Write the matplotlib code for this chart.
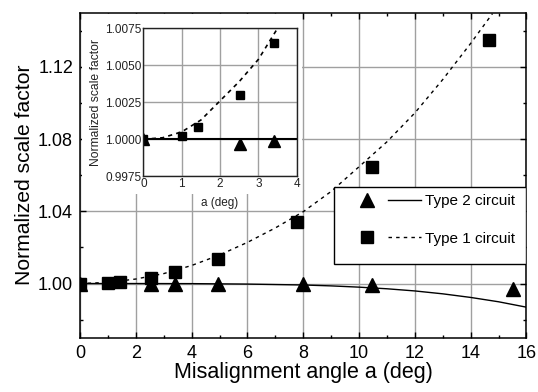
import matplotlib
matplotlib.use("Agg")
import matplotlib.pyplot as plt
from matplotlib.patches import Rectangle
from matplotlib.legend_handler import HandlerTuple
from matplotlib.ticker import MultipleLocator

plt.rcParams["font.family"] = ["Liberation Sans", "DejaVu Sans"]

# measured points, type 1 circuit (squares)
t1_angle = [0.0, 1.0, 1.42, 2.53, 3.42, 4.93, 7.77, 10.45, 14.66]
t1_factor = [1.0000, 1.0002, 1.0008, 1.0030, 1.0065, 1.0137, 1.0340, 1.0643, 1.1348]

# measured points, type 2 circuit (triangles)
t2_angle = [0.0, 2.53, 3.42, 4.93, 8.0, 10.45, 15.5]
t2_factor = [1.0000, 0.9998, 0.9999, 0.9999, 0.9996, 0.9991, 0.9969]

# fitted curves
fit1_angle = [0, 1, 2, 3, 4, 5, 6, 7, 8, 9, 10, 11, 12, 13, 14, 14.78]
fit1_factor = [1.0, 1.0006, 1.0025, 1.0055, 1.0100, 1.0158, 1.0228, 1.0308,
               1.0398, 1.0510, 1.0647, 1.0785, 1.0945, 1.1130, 1.1330, 1.1495]
fit2_angle = [0, 2, 4, 6, 8, 9, 10, 11, 12, 13, 14, 15, 16]
fit2_factor = [1.0, 1.0, 0.99995, 0.9997, 0.9992, 0.9987, 0.9980, 0.9971,
               0.9959, 0.9943, 0.9923, 0.9899, 0.9869]

# inset (zoom on small angles)
in1_angle = [0.0, 1.0, 1.42, 2.53, 3.42]
in1_factor = [1.0000, 1.0002, 1.0008, 1.0030, 1.0065]
in2_angle = [0.0, 2.53, 3.42]
in2_factor = [1.0000, 0.9997, 0.9999]
infit1_angle = [0, 0.5, 1, 1.5, 2, 2.5, 3, 3.5]
infit1_factor = [1.0, 1.0001, 1.0005, 1.0013, 1.0026, 1.0039, 1.0054, 1.0075]
infit2_angle = [0, 4]
infit2_factor = [1.0, 1.0]

fig = plt.figure(figsize=(5.38, 3.92), dpi=100)
ax = fig.add_axes([0.1487, 0.1385, 0.8299, 0.8291])

ax.plot(fit2_angle, fit2_factor, color="black", lw=1.0)
ax.plot(fit1_angle, fit1_factor, color="black", lw=1.0, ls=(0, (2.5, 3)))
ax.plot(t2_angle, t2_factor, "^", color="black", ms=10, ls="none")
ax.plot(t1_angle, t1_factor, "s", color="black", ms=8.2, ls="none")

ax.set_xlim(0, 16)
ax.set_ylim(0.97, 1.15)
ax.xaxis.set_major_locator(MultipleLocator(2))
ax.xaxis.set_minor_locator(MultipleLocator(1))
ax.yaxis.set_minor_locator(MultipleLocator(0.02))
ax.set_yticks([1.00, 1.04, 1.08, 1.12])
ax.set_yticklabels(["1.00", "1.04", "1.08", "1.12"])
ax.grid(True, which="major", color="#a0a0a0", lw=1.0)
ax.tick_params(which="both", direction="in", top=True, right=True,
               labelsize=13, pad=5)
ax.tick_params(which="major", length=4, width=1)
ax.tick_params(which="minor", length=2.5, width=1)
for s in ax.spines.values():
    s.set_linewidth(1.1)
ax.set_xlabel("Misalignment angle a (deg)", fontsize=15.5, labelpad=0)
ax.set_ylabel("Normalized scale factor", fontsize=15.2, labelpad=3)

# legend box (Origin style, extra room below the entries)
ax.add_patch(Rectangle((0.5696, 0.2258), 0.4304, 0.237, transform=ax.transAxes,
                       facecolor="white", edgecolor="black", lw=1.0, zorder=4))
h2m, = ax.plot([], [], "^", color="black", ms=10)
h2l, = ax.plot([], [], color="black", lw=1.0)
h1m, = ax.plot([], [], "s", color="black", ms=8.2)
h1l, = ax.plot([], [], color="black", lw=1.0, ls=(0, (2.5, 3)))
leg = ax.legend([(h2m, h2l), (h1m, h1l)], ["Type 2 circuit", "Type 1 circuit"],
                handler_map={tuple: HandlerTuple(ndivide=None, pad=0.3)},
                loc="upper right", bbox_to_anchor=(0.99, 0.463), borderaxespad=0,
                fontsize=11, handlelength=4.6, handletextpad=0.3,
                labelspacing=1.55, borderpad=0.45, frameon=False)
leg.set_zorder(5)

# white layer behind the inset
fig.add_artist(Rectangle((82 / 538, 1 - 194 / 392), 220 / 538, 180 / 392,
                         transform=fig.transFigure, facecolor="white",
                         edgecolor="none", zorder=0.5))

ins = fig.add_axes([0.2667, 0.5505, 0.2848, 0.3773], zorder=1)
ins.plot(infit2_angle, infit2_factor, color="black", lw=1.5)
ins.plot(infit1_angle, infit1_factor, color="black", lw=1.2, ls=(0, (2.5, 2.5)))
ins.plot(in2_angle, in2_factor, "^", color="black", ms=8, ls="none")
ins.plot(in1_angle, in1_factor, "s", color="black", ms=5.5, ls="none")
ins.set_xlim(0, 4)
ins.set_ylim(0.9975, 1.0075)
ins.set_xticks([0, 1, 2, 3, 4])
ins.set_yticks([0.9975, 1.0, 1.0025, 1.005, 1.0075])
ins.set_yticklabels(["0.9975", "1.0000", "1.0025", "1.0050", "1.0075"])
ins.grid(True, color="#a0a0a0", lw=1.0)
ins.tick_params(direction="in", length=0, labelsize=8.5, pad=1.5, colors="#222222")
for s in ins.spines.values():
    s.set_linewidth(1.0)
    s.set_color("#222222")
ins.set_xlabel("a (deg)", fontsize=8.5, labelpad=5, color="#222222")
ins.set_ylabel("Normalized scale factor", fontsize=8.7, labelpad=2, color="#222222")

fig.savefig("out.png", dpi=100)
